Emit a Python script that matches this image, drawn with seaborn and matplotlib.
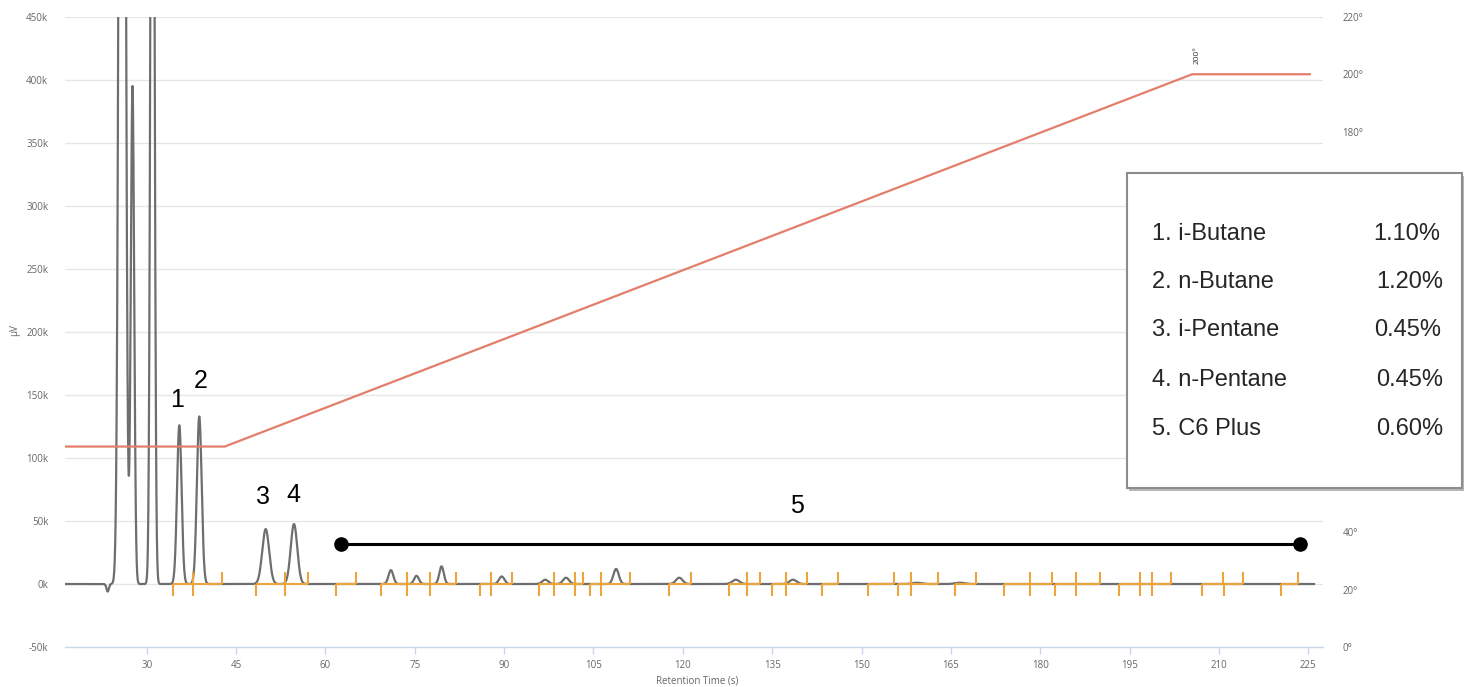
import numpy as np
import pandas as pd
import matplotlib
matplotlib.use("Agg")
import matplotlib.pyplot as plt
from matplotlib.patches import Rectangle
import seaborn as sns

# peak table (retention time s, height uV, width s)
peak_time = [23.45, 25.89, 27.62, 30.97, 35.48, 38.83, 49.98, 54.73,
             71.0, 75.3, 79.5, 89.6, 96.9, 100.4, 108.8, 119.4, 128.9, 138.5, 159.3, 166.5]
peak_height = [-6000, 1600000, 395000, 1000000, 126000, 133000, 43600, 47600,
               11000, 6500, 14000, 6000, 3400, 5000, 12000, 5000, 3400, 3400, 1000, 1000]
peak_sigma = [0.2, 0.42, 0.285, 0.29, 0.38, 0.4, 0.58, 0.55,
              0.4, 0.4, 0.38, 0.45, 0.5, 0.5, 0.45, 0.55, 0.6, 0.6, 0.8, 0.8]
run_start, run_end = 16.3, 226.0

# oven program (s, deg)
oven_time = [16.3, 43.1, 205.5, 225.3]
oven_temp = [70, 70, 200, 200]

# integration marks (start, splits, end) per group
mark_groups = [[34.5, 37.8, 42.6], [48.3, 53.3, 57.1], [61.7, 65.1],
               [69.3, 73.65, 77.6, 81.9], [86.0, 87.8, 91.4],
               [95.9, 98.4, 101.85, 103.2], [104.5, 106.3, 111.1], [117.6, 121.3],
               [127.7, 130.7, 133.0], [135.0, 137.4, 140.9], [143.4, 146.0],
               [151.1, 155.45], [156.2, 158.3, 162.8], [165.7, 169.2],
               [174.0, 178.3, 181.9], [182.5, 186.0, 190.0],
               [193.3, 196.8, 198.7, 201.9], [207.1, 210.6], [210.85, 214.1],
               [220.5, 223.3]]

c6_range = [62.6, 223.6]
c6_level = 31700

components = ["1. i-Butane", "2. n-Butane", "3. i-Pentane", "4. n-Pentane", "5. C6 Plus"]
percents = ["1.10%", "1.20%", "0.45%", "0.45%", "0.60%"]

x_ticks = list(range(30, 226, 15))
y_ticks = list(range(-50000, 450001, 50000))
y_labels = [f"{v // 1000}k" for v in y_ticks]
temp_ticks = list(range(0, 221, 20))

# build trace
t = np.linspace(run_start, run_end, 8000)
sig = np.zeros_like(t)
for mu, h, s in zip(peak_time, peak_height, peak_sigma):
    sig += h * np.exp(-0.5 * ((t - mu) / s) ** 2)
trace = pd.DataFrame({"time": t, "uV": sig})
oven = pd.DataFrame({"time": oven_time, "temp": oven_temp})

sns.set_style("white")
plt.rcParams["font.family"] = ["Open Sans", "DejaVu Sans"]

fig = plt.figure(figsize=(14.69, 6.87), dpi=100)
ax = fig.add_axes([65 / 1469, 40 / 687, (1323 - 65) / 1469, 630 / 687])
ax2 = ax.twinx()

ax.set_xlim(16.29, 227.47)
ax.set_ylim(-50000, 450000)
ax2.set_ylim(0, 220)

for v in y_ticks[1:]:
    ax.axhline(v, color="#e6e6e6", lw=1, zorder=0)

sns.lineplot(data=trace, x="time", y="uV", ax=ax, color="#6e6e6e", lw=1.6,
             estimator=None, zorder=3)

# integration marks
mk = "#eba53a"
tick_h = 9500
for g in mark_groups:
    ax.hlines(0, g[0], g[-1], color=mk, lw=1.5, zorder=4)
    ax.vlines(g[0], -tick_h, 0, color=mk, lw=1.5, zorder=4)
    ax.vlines(g[-1], 0, tick_h, color=mk, lw=1.5, zorder=4)
    for s in g[1:-1]:
        ax.vlines(s, -tick_h, tick_h, color=mk, lw=1.5, zorder=4)

ax.plot(c6_range, [c6_level, c6_level], color="black", lw=2.2, marker="o",
        markersize=9.5, zorder=5)

for lab, x, y in [("1", 35.1, 146000), ("2", 39.1, 161000), ("3", 49.5, 69000),
                  ("4", 54.6, 70600), ("5", 139.2, 61900)]:
    ax.text(x, y, lab, fontsize=18, ha="center", va="center",
            family=["Liberation Sans"], color="black", zorder=6)

sns.lineplot(data=oven, x="time", y="temp", ax=ax2, color="#e47d6b", lw=1.6,
             estimator=None)
ax2.text(206.3, 206.7, "200°", rotation=90, fontsize=6, ha="center", va="center",
         color="#333333")

# axes styling
ax.set_xticks(x_ticks)
ax.set_xticklabels([str(v) for v in x_ticks])
ax.set_yticks(y_ticks)
ax.set_yticklabels(y_labels)
ax.tick_params(axis="x", colors="#ccd6eb", length=5, width=1, pad=4,
               labelcolor="#666666", labelsize=7, bottom=True)
ax.tick_params(axis="y", length=0, pad=12, labelcolor="#666666", labelsize=7)
ax2.set_yticks(temp_ticks)
ax2.set_yticklabels([f"{v}°" for v in temp_ticks])
ax2.tick_params(axis="y", length=0, pad=14, labelcolor="#666666", labelsize=7)
ax.set_xlabel("")
ax.set_ylabel("")
ax2.set_ylabel("")
for sp in ["top", "left", "right"]:
    ax.spines[sp].set_visible(False)
    ax2.spines[sp].set_visible(False)
ax2.spines["bottom"].set_visible(False)
ax.spines["bottom"].set_color("#ccd6eb")
ax.spines["bottom"].set_linewidth(1)

fig.text(697 / 1469, 1 - 681 / 687, "Retention Time (s)", ha="center", va="center",
         fontsize=7, color="#666666")
fig.text(15 / 1469, 1 - 330 / 687, "µV", ha="center", va="center", rotation=90,
         fontsize=7, color="#666666")

# component box
bx0, by0, bw, bh = 1127 / 1469, 1 - 488 / 687, 335 / 1469, 315 / 687
fig.patches.append(Rectangle((bx0 + 2 / 1469, by0 - 3 / 687), bw, bh,
                             transform=fig.transFigure, facecolor="#b8b8b8",
                             edgecolor="none", zorder=20))
fig.patches.append(Rectangle((bx0, by0), bw, bh, transform=fig.transFigure,
                             facecolor="white", edgecolor="#8c8c8c", lw=1.5, zorder=21))
row_y = [234, 282, 330, 380, 429]
pct_right = [1440, 1443, 1441, 1443, 1443]
for name, pct, yy, xr in zip(components, percents, row_y, pct_right):
    fig.text(1152 / 1469, 1 - yy / 687, name, fontsize=17, ha="left", va="center",
             family=["Liberation Sans"], zorder=22)
    fig.text(xr / 1469, 1 - yy / 687, pct, fontsize=17, ha="right", va="center",
             family=["Liberation Sans"], zorder=22)

fig.savefig("out.png", dpi=100)
